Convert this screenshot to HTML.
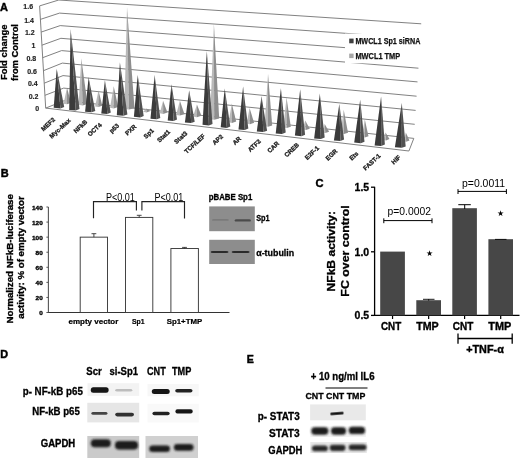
<!DOCTYPE html>
<html><head><meta charset="utf-8"><style>
html,body{margin:0;padding:0;background:#fff;}
body{width:520px;height:458px;overflow:hidden;}
svg{display:block;font-family:"Liberation Sans", Arial, sans-serif;}
</style></head><body>
<svg width="520" height="458" viewBox="0 0 520 458">
<defs>
<filter id="bl1" x="-20%" y="-50%" width="140%" height="200%"><feGaussianBlur stdDeviation="0.6"/></filter>
<filter id="bl2" x="-20%" y="-50%" width="140%" height="200%"><feGaussianBlur stdDeviation="1.0"/></filter>
</defs>
<rect width="520" height="458" fill="#fff"/>
<polyline points="39.60,5.90 58.80,0.00 421.20,23.80" fill="none" stroke="#7a7a7a" stroke-width="0.95"/>
<polyline points="40.36,19.40 59.50,13.10 420.27,38.60" fill="none" stroke="#7a7a7a" stroke-width="0.95"/>
<polyline points="41.12,32.10 60.20,25.60 419.35,53.40" fill="none" stroke="#7a7a7a" stroke-width="0.95"/>
<polyline points="41.89,45.20 60.90,38.30 418.43,68.20" fill="none" stroke="#7a7a7a" stroke-width="0.95"/>
<polyline points="42.65,57.70 61.60,50.60 417.50,81.90" fill="none" stroke="#7a7a7a" stroke-width="0.95"/>
<polyline points="43.41,70.70 62.30,63.10 416.57,96.20" fill="none" stroke="#7a7a7a" stroke-width="0.95"/>
<polyline points="44.18,83.20 63.00,75.60 415.65,110.40" fill="none" stroke="#7a7a7a" stroke-width="0.95"/>
<polyline points="44.94,95.30 63.70,88.10 414.73,124.30" fill="none" stroke="#7a7a7a" stroke-width="0.95"/>
<polyline points="45.70,108.10 64.40,100.60 413.80,138.40" fill="none" stroke="#7a7a7a" stroke-width="0.95"/>
<line x1="39.60" y1="5.90" x2="45.70" y2="108.10" stroke="#7a7a7a" stroke-width="0.95"/>
<polyline points="45.70,108.10 408.90,151.00 413.80,138.40" fill="none" stroke="#7a7a7a" stroke-width="0.95"/>
<rect x="345.00" y="33.60" width="81.00" height="29.70" fill="#fff" stroke="none" stroke-width="0" />
<rect x="349.20" y="38.60" width="4.40" height="4.70" fill="#404040" stroke="none" stroke-width="0" />
<rect x="349.20" y="53.60" width="4.40" height="4.50" fill="#a6a6a6" stroke="none" stroke-width="0" />
<text x="355.40" y="43.90" font-size="8.4" font-weight="bold" text-anchor="start" fill="#111" stroke="#111" stroke-width="0.25" textLength="65.00" lengthAdjust="spacingAndGlyphs" >MWCL1 Sp1 siRNA</text>
<text x="355.40" y="58.70" font-size="8.4" font-weight="bold" text-anchor="start" fill="#111" stroke="#111" stroke-width="0.25" textLength="44.80" lengthAdjust="spacingAndGlyphs" >MWCL1 TMP</text>
<polygon points="67.00,87.60 63.60,103.70 66.93,104.30" fill="#b9b9b9" stroke="none" stroke-width="0"/>
<polygon points="67.00,87.60 66.93,104.30 71.00,102.90" fill="#8e8e8e" stroke="none" stroke-width="0"/>
<polygon points="81.30,58.50 78.60,104.80 82.60,105.40" fill="#b9b9b9" stroke="none" stroke-width="0"/>
<polygon points="81.30,58.50 82.60,105.40 87.50,104.00" fill="#8e8e8e" stroke="none" stroke-width="0"/>
<polygon points="98.50,90.60 95.10,106.50 98.34,107.10" fill="#b9b9b9" stroke="none" stroke-width="0"/>
<polygon points="98.50,90.60 98.34,107.10 102.30,105.70" fill="#8e8e8e" stroke="none" stroke-width="0"/>
<polygon points="113.70,86.20 110.00,107.80 113.69,108.40" fill="#b9b9b9" stroke="none" stroke-width="0"/>
<polygon points="113.70,86.20 113.69,108.40 118.20,107.00" fill="#8e8e8e" stroke="none" stroke-width="0"/>
<polygon points="127.00,7.60 124.40,109.00 128.94,109.60" fill="#b9b9b9" stroke="none" stroke-width="0"/>
<polygon points="127.00,7.60 128.94,109.60 134.50,108.20" fill="#8e8e8e" stroke="none" stroke-width="0"/>
<polygon points="146.50,108.50 143.10,111.80 146.43,112.40" fill="#b9b9b9" stroke="none" stroke-width="0"/>
<polygon points="146.50,108.50 146.43,112.40 150.50,111.00" fill="#8e8e8e" stroke="none" stroke-width="0"/>
<polygon points="163.10,100.80 159.80,113.30 163.22,113.90" fill="#b9b9b9" stroke="none" stroke-width="0"/>
<polygon points="163.10,100.80 163.22,113.90 167.40,112.50" fill="#8e8e8e" stroke="none" stroke-width="0"/>
<polygon points="179.90,100.70 176.10,115.00 179.88,115.60" fill="#b9b9b9" stroke="none" stroke-width="0"/>
<polygon points="179.90,100.70 179.88,115.60 184.50,114.20" fill="#8e8e8e" stroke="none" stroke-width="0"/>
<polygon points="196.90,104.40 193.10,116.60 196.88,117.20" fill="#b9b9b9" stroke="none" stroke-width="0"/>
<polygon points="196.90,104.40 196.88,117.20 201.50,115.80" fill="#8e8e8e" stroke="none" stroke-width="0"/>
<polygon points="213.90,24.10 210.10,119.20 214.19,119.80" fill="#b9b9b9" stroke="none" stroke-width="0"/>
<polygon points="213.90,24.10 214.19,119.80 219.20,118.40" fill="#8e8e8e" stroke="none" stroke-width="0"/>
<polygon points="231.80,103.40 228.60,122.30 232.02,122.90" fill="#b9b9b9" stroke="none" stroke-width="0"/>
<polygon points="231.80,103.40 232.02,122.90 236.20,121.50" fill="#8e8e8e" stroke="none" stroke-width="0"/>
<polygon points="249.60,107.90 246.60,123.60 249.97,124.20" fill="#b9b9b9" stroke="none" stroke-width="0"/>
<polygon points="249.60,107.90 249.97,124.20 254.10,122.80" fill="#8e8e8e" stroke="none" stroke-width="0"/>
<polygon points="268.00,73.80 264.60,126.20 268.02,126.80" fill="#b9b9b9" stroke="none" stroke-width="0"/>
<polygon points="268.00,73.80 268.02,126.80 272.20,125.40" fill="#8e8e8e" stroke="none" stroke-width="0"/>
<polygon points="286.50,97.50 283.30,127.50 286.68,128.10" fill="#b9b9b9" stroke="none" stroke-width="0"/>
<polygon points="286.50,97.50 286.68,128.10 290.80,126.70" fill="#8e8e8e" stroke="none" stroke-width="0"/>
<polygon points="305.20,120.50 302.60,129.50 305.84,130.10" fill="#b9b9b9" stroke="none" stroke-width="0"/>
<polygon points="305.20,120.50 305.84,130.10 309.80,128.70" fill="#8e8e8e" stroke="none" stroke-width="0"/>
<polygon points="324.70,124.00 322.20,132.50 325.31,133.10" fill="#b9b9b9" stroke="none" stroke-width="0"/>
<polygon points="324.70,124.00 325.31,133.10 329.10,131.70" fill="#8e8e8e" stroke="none" stroke-width="0"/>
<polygon points="343.70,109.70 340.60,133.50 343.93,134.10" fill="#b9b9b9" stroke="none" stroke-width="0"/>
<polygon points="343.70,109.70 343.93,134.10 348.00,132.70" fill="#8e8e8e" stroke="none" stroke-width="0"/>
<polygon points="364.80,119.50 361.60,137.00 364.71,137.60" fill="#b9b9b9" stroke="none" stroke-width="0"/>
<polygon points="364.80,119.50 364.71,137.60 368.50,136.20" fill="#8e8e8e" stroke="none" stroke-width="0"/>
<polygon points="385.50,132.50 383.10,139.80 385.98,140.40" fill="#b9b9b9" stroke="none" stroke-width="0"/>
<polygon points="385.50,132.50 385.98,140.40 389.50,139.00" fill="#8e8e8e" stroke="none" stroke-width="0"/>
<polygon points="405.80,132.50 403.40,141.20 406.15,141.80" fill="#b9b9b9" stroke="none" stroke-width="0"/>
<polygon points="405.80,132.50 406.15,141.80 409.50,140.40" fill="#8e8e8e" stroke="none" stroke-width="0"/>
<polygon points="56.70,68.70 53.70,107.80 60.42,108.40" fill="#3b3b3b" stroke="none" stroke-width="0"/>
<polygon points="56.70,68.70 60.42,108.40 64.20,107.00" fill="#515151" stroke="none" stroke-width="0"/>
<polygon points="70.60,29.20 69.20,109.90 75.79,110.50" fill="#3b3b3b" stroke="none" stroke-width="0"/>
<polygon points="70.60,29.20 75.79,110.50 79.50,109.10" fill="#515151" stroke="none" stroke-width="0"/>
<polygon points="88.60,77.30 85.10,111.70 91.63,112.30" fill="#3b3b3b" stroke="none" stroke-width="0"/>
<polygon points="88.60,77.30 91.63,112.30 95.30,110.90" fill="#515151" stroke="none" stroke-width="0"/>
<polygon points="104.90,80.20 101.30,113.40 107.38,114.00" fill="#3b3b3b" stroke="none" stroke-width="0"/>
<polygon points="104.90,80.20 107.38,114.00 110.80,112.60" fill="#515151" stroke="none" stroke-width="0"/>
<polygon points="119.90,62.20 116.80,115.20 123.58,115.80" fill="#3b3b3b" stroke="none" stroke-width="0"/>
<polygon points="119.90,62.20 123.58,115.80 127.40,114.40" fill="#515151" stroke="none" stroke-width="0"/>
<polygon points="137.70,75.00 133.90,116.80 140.17,117.40" fill="#3b3b3b" stroke="none" stroke-width="0"/>
<polygon points="137.70,75.00 140.17,117.40 143.70,116.00" fill="#515151" stroke="none" stroke-width="0"/>
<polygon points="154.60,75.00 150.50,118.70 156.77,119.30" fill="#3b3b3b" stroke="none" stroke-width="0"/>
<polygon points="154.60,75.00 156.77,119.30 160.30,117.90" fill="#515151" stroke="none" stroke-width="0"/>
<polygon points="171.50,84.30 167.70,120.40 173.65,121.00" fill="#3b3b3b" stroke="none" stroke-width="0"/>
<polygon points="171.50,84.30 173.65,121.00 177.00,119.60" fill="#515151" stroke="none" stroke-width="0"/>
<polygon points="189.20,90.20 184.90,122.50 191.17,123.10" fill="#3b3b3b" stroke="none" stroke-width="0"/>
<polygon points="189.20,90.20 191.17,123.10 194.70,121.70" fill="#515151" stroke="none" stroke-width="0"/>
<polygon points="206.80,51.00 202.50,124.80 208.90,125.40" fill="#3b3b3b" stroke="none" stroke-width="0"/>
<polygon points="206.80,51.00 208.90,125.40 212.50,124.00" fill="#515151" stroke="none" stroke-width="0"/>
<polygon points="224.70,88.60 220.70,127.30 226.84,127.90" fill="#3b3b3b" stroke="none" stroke-width="0"/>
<polygon points="224.70,88.60 226.84,127.90 230.30,126.50" fill="#515151" stroke="none" stroke-width="0"/>
<polygon points="243.10,86.60 238.50,129.40 244.77,130.00" fill="#3b3b3b" stroke="none" stroke-width="0"/>
<polygon points="243.10,86.60 244.77,130.00 248.30,128.60" fill="#515151" stroke="none" stroke-width="0"/>
<polygon points="261.50,96.20 256.80,131.50 263.39,132.10" fill="#3b3b3b" stroke="none" stroke-width="0"/>
<polygon points="261.50,96.20 263.39,132.10 267.10,130.70" fill="#515151" stroke="none" stroke-width="0"/>
<polygon points="280.90,88.30 275.70,133.40 282.10,134.00" fill="#3b3b3b" stroke="none" stroke-width="0"/>
<polygon points="280.90,88.30 282.10,134.00 285.70,132.60" fill="#515151" stroke="none" stroke-width="0"/>
<polygon points="300.20,89.20 294.90,135.60 301.43,136.20" fill="#3b3b3b" stroke="none" stroke-width="0"/>
<polygon points="300.20,89.20 301.43,136.20 305.10,134.80" fill="#515151" stroke="none" stroke-width="0"/>
<polygon points="319.80,93.50 314.10,138.40 320.88,139.00" fill="#3b3b3b" stroke="none" stroke-width="0"/>
<polygon points="319.80,93.50 320.88,139.00 324.70,137.60" fill="#515151" stroke="none" stroke-width="0"/>
<polygon points="339.30,104.00 333.90,140.40 340.43,141.00" fill="#3b3b3b" stroke="none" stroke-width="0"/>
<polygon points="339.30,104.00 340.43,141.00 344.10,139.60" fill="#515151" stroke="none" stroke-width="0"/>
<polygon points="360.20,99.80 354.20,142.60 360.79,143.20" fill="#3b3b3b" stroke="none" stroke-width="0"/>
<polygon points="360.20,99.80 360.79,143.20 364.50,141.80" fill="#515151" stroke="none" stroke-width="0"/>
<polygon points="381.10,96.50 374.60,145.40 381.19,146.00" fill="#3b3b3b" stroke="none" stroke-width="0"/>
<polygon points="381.10,96.50 381.19,146.00 384.90,144.60" fill="#515151" stroke="none" stroke-width="0"/>
<polygon points="401.80,102.90 394.90,147.20 401.81,147.80" fill="#3b3b3b" stroke="none" stroke-width="0"/>
<polygon points="401.80,102.90 401.81,147.80 405.70,146.40" fill="#515151" stroke="none" stroke-width="0"/>
<text x="33.10" y="9.10" font-size="7.0" font-weight="bold" text-anchor="end" fill="#222" stroke="#222" stroke-width="0.15" >1.6</text>
<text x="33.86" y="22.60" font-size="7.0" font-weight="bold" text-anchor="end" fill="#222" stroke="#222" stroke-width="0.15" >1.4</text>
<text x="34.62" y="35.30" font-size="7.0" font-weight="bold" text-anchor="end" fill="#222" stroke="#222" stroke-width="0.15" >1.2</text>
<text x="35.39" y="48.40" font-size="7.0" font-weight="bold" text-anchor="end" fill="#222" stroke="#222" stroke-width="0.15" >1</text>
<text x="36.15" y="60.90" font-size="7.0" font-weight="bold" text-anchor="end" fill="#222" stroke="#222" stroke-width="0.15" >0.8</text>
<text x="36.91" y="73.90" font-size="7.0" font-weight="bold" text-anchor="end" fill="#222" stroke="#222" stroke-width="0.15" >0.6</text>
<text x="37.68" y="86.40" font-size="7.0" font-weight="bold" text-anchor="end" fill="#222" stroke="#222" stroke-width="0.15" >0.4</text>
<text x="38.44" y="98.50" font-size="7.0" font-weight="bold" text-anchor="end" fill="#222" stroke="#222" stroke-width="0.15" >0.2</text>
<text x="39.20" y="111.30" font-size="7.0" font-weight="bold" text-anchor="end" fill="#222" stroke="#222" stroke-width="0.15" >0</text>
<text x="7.10" y="80.00" font-size="9.6" font-weight="bold" text-anchor="start" fill="#000" stroke="#000" stroke-width="0.3" textLength="55.40" lengthAdjust="spacingAndGlyphs" transform="rotate(-90 7.10 80.00)" >Fold change</text>
<text x="17.60" y="80.90" font-size="9.5" font-weight="bold" text-anchor="start" fill="#000" stroke="#000" stroke-width="0.3" textLength="56.90" lengthAdjust="spacingAndGlyphs" transform="rotate(-90 17.60 80.90)" >from Control</text>
<text x="0.00" y="10.60" font-size="11" font-weight="bold" text-anchor="start" fill="#000" stroke="#000" stroke-width="0.4" >A</text>
<text x="55.48" y="120.26" font-size="6.2" font-weight="bold" text-anchor="end" fill="#1a1a1a" stroke="#1a1a1a" stroke-width="0.3" transform="rotate(-43 55.48 120.26)" >MEF2</text>
<text x="70.98" y="120.96" font-size="6.2" font-weight="bold" text-anchor="end" fill="#1a1a1a" stroke="#1a1a1a" stroke-width="0.3" transform="rotate(-43 70.98 120.96)" >Myc-Max</text>
<text x="87.78" y="122.56" font-size="6.2" font-weight="bold" text-anchor="end" fill="#1a1a1a" stroke="#1a1a1a" stroke-width="0.3" transform="rotate(-43 87.78 122.56)" >NFkB</text>
<text x="102.18" y="125.56" font-size="6.2" font-weight="bold" text-anchor="end" fill="#1a1a1a" stroke="#1a1a1a" stroke-width="0.3" transform="rotate(-43 102.18 125.56)" >OCT4</text>
<text x="119.48" y="126.26" font-size="6.2" font-weight="bold" text-anchor="end" fill="#1a1a1a" stroke="#1a1a1a" stroke-width="0.3" transform="rotate(-43 119.48 126.26)" >p53</text>
<text x="136.78" y="127.16" font-size="6.2" font-weight="bold" text-anchor="end" fill="#1a1a1a" stroke="#1a1a1a" stroke-width="0.3" transform="rotate(-43 136.78 127.16)" >PXR</text>
<text x="154.28" y="131.16" font-size="6.2" font-weight="bold" text-anchor="end" fill="#1a1a1a" stroke="#1a1a1a" stroke-width="0.3" transform="rotate(-43 154.28 131.16)" >Sp1</text>
<text x="170.48" y="132.46" font-size="6.2" font-weight="bold" text-anchor="end" fill="#1a1a1a" stroke="#1a1a1a" stroke-width="0.3" transform="rotate(-43 170.48 132.46)" >Stat1</text>
<text x="187.68" y="133.86" font-size="6.2" font-weight="bold" text-anchor="end" fill="#1a1a1a" stroke="#1a1a1a" stroke-width="0.3" transform="rotate(-43 187.68 133.86)" >Stat3</text>
<text x="205.48" y="136.56" font-size="6.2" font-weight="bold" text-anchor="end" fill="#1a1a1a" stroke="#1a1a1a" stroke-width="0.3" transform="rotate(-43 205.48 136.56)" >TCF/LEF</text>
<text x="223.48" y="137.06" font-size="6.2" font-weight="bold" text-anchor="end" fill="#1a1a1a" stroke="#1a1a1a" stroke-width="0.3" transform="rotate(-43 223.48 137.06)" >AP2</text>
<text x="241.48" y="139.26" font-size="6.2" font-weight="bold" text-anchor="end" fill="#1a1a1a" stroke="#1a1a1a" stroke-width="0.3" transform="rotate(-43 241.48 139.26)" >AR</text>
<text x="261.18" y="141.96" font-size="6.2" font-weight="bold" text-anchor="end" fill="#1a1a1a" stroke="#1a1a1a" stroke-width="0.3" transform="rotate(-43 261.18 141.96)" >ATF2</text>
<text x="279.48" y="144.06" font-size="6.2" font-weight="bold" text-anchor="end" fill="#1a1a1a" stroke="#1a1a1a" stroke-width="0.3" transform="rotate(-43 279.48 144.06)" >CAR</text>
<text x="299.48" y="145.56" font-size="6.2" font-weight="bold" text-anchor="end" fill="#1a1a1a" stroke="#1a1a1a" stroke-width="0.3" transform="rotate(-43 299.48 145.56)" >CREB</text>
<text x="319.48" y="148.66" font-size="6.2" font-weight="bold" text-anchor="end" fill="#1a1a1a" stroke="#1a1a1a" stroke-width="0.3" transform="rotate(-43 319.48 148.66)" >E2F-1</text>
<text x="337.88" y="151.76" font-size="6.2" font-weight="bold" text-anchor="end" fill="#1a1a1a" stroke="#1a1a1a" stroke-width="0.3" transform="rotate(-43 337.88 151.76)" >EGR</text>
<text x="358.78" y="154.16" font-size="6.2" font-weight="bold" text-anchor="end" fill="#1a1a1a" stroke="#1a1a1a" stroke-width="0.3" transform="rotate(-43 358.78 154.16)" >Ets</text>
<text x="380.98" y="156.36" font-size="6.2" font-weight="bold" text-anchor="end" fill="#1a1a1a" stroke="#1a1a1a" stroke-width="0.3" transform="rotate(-43 380.98 156.36)" >FAST-1</text>
<text x="400.98" y="157.86" font-size="6.2" font-weight="bold" text-anchor="end" fill="#1a1a1a" stroke="#1a1a1a" stroke-width="0.3" transform="rotate(-43 400.98 157.86)" >HIF</text>
<text x="0.80" y="176.50" font-size="11" font-weight="bold" text-anchor="start" fill="#000" stroke="#000" stroke-width="0.45" >B</text>
<line x1="48.40" y1="207.00" x2="48.40" y2="313.00" stroke="#555" stroke-width="1.1"/>
<line x1="47.40" y1="312.50" x2="229.50" y2="312.50" stroke="#333" stroke-width="1"/>
<line x1="46.40" y1="312.50" x2="48.40" y2="312.50" stroke="#555" stroke-width="1"/>
<text x="42.80" y="315.20" font-size="5.6" font-weight="bold" text-anchor="end" fill="#000" stroke="#000" stroke-width="0.3" textLength="3.60" lengthAdjust="spacingAndGlyphs" >0</text>
<line x1="46.40" y1="297.43" x2="48.40" y2="297.43" stroke="#555" stroke-width="1"/>
<text x="42.80" y="300.13" font-size="5.6" font-weight="bold" text-anchor="end" fill="#000" stroke="#000" stroke-width="0.3" textLength="7.20" lengthAdjust="spacingAndGlyphs" >20</text>
<line x1="46.40" y1="282.36" x2="48.40" y2="282.36" stroke="#555" stroke-width="1"/>
<text x="42.80" y="285.06" font-size="5.6" font-weight="bold" text-anchor="end" fill="#000" stroke="#000" stroke-width="0.3" textLength="7.20" lengthAdjust="spacingAndGlyphs" >40</text>
<line x1="46.40" y1="267.29" x2="48.40" y2="267.29" stroke="#555" stroke-width="1"/>
<text x="42.80" y="269.99" font-size="5.6" font-weight="bold" text-anchor="end" fill="#000" stroke="#000" stroke-width="0.3" textLength="7.20" lengthAdjust="spacingAndGlyphs" >60</text>
<line x1="46.40" y1="252.22" x2="48.40" y2="252.22" stroke="#555" stroke-width="1"/>
<text x="42.80" y="254.92" font-size="5.6" font-weight="bold" text-anchor="end" fill="#000" stroke="#000" stroke-width="0.3" textLength="7.20" lengthAdjust="spacingAndGlyphs" >80</text>
<line x1="46.40" y1="237.15" x2="48.40" y2="237.15" stroke="#555" stroke-width="1"/>
<text x="42.80" y="239.85" font-size="5.6" font-weight="bold" text-anchor="end" fill="#000" stroke="#000" stroke-width="0.3" textLength="10.80" lengthAdjust="spacingAndGlyphs" >100</text>
<line x1="46.40" y1="222.08" x2="48.40" y2="222.08" stroke="#555" stroke-width="1"/>
<text x="42.80" y="224.78" font-size="5.6" font-weight="bold" text-anchor="end" fill="#000" stroke="#000" stroke-width="0.3" textLength="10.80" lengthAdjust="spacingAndGlyphs" >120</text>
<line x1="46.40" y1="207.01" x2="48.40" y2="207.01" stroke="#555" stroke-width="1"/>
<text x="42.80" y="209.71" font-size="5.6" font-weight="bold" text-anchor="end" fill="#000" stroke="#000" stroke-width="0.3" textLength="10.80" lengthAdjust="spacingAndGlyphs" >140</text>
<rect x="80.20" y="237.15" width="27.30" height="75.35" fill="#fff" stroke="#3a3a3a" stroke-width="0.95" />
<rect x="125.50" y="217.41" width="27.30" height="95.09" fill="#fff" stroke="#3a3a3a" stroke-width="0.95" />
<rect x="170.90" y="248.53" width="27.50" height="63.97" fill="#fff" stroke="#3a3a3a" stroke-width="0.95" />
<line x1="93.90" y1="233.70" x2="93.90" y2="237.15" stroke="#333" stroke-width="0.9"/>
<line x1="91.50" y1="233.70" x2="96.30" y2="233.70" stroke="#333" stroke-width="0.9"/>
<line x1="139.20" y1="215.30" x2="139.20" y2="217.41" stroke="#333" stroke-width="0.9"/>
<line x1="136.80" y1="215.30" x2="141.60" y2="215.30" stroke="#333" stroke-width="0.9"/>
<line x1="184.50" y1="247.40" x2="184.50" y2="248.53" stroke="#333" stroke-width="0.9"/>
<line x1="182.10" y1="247.40" x2="186.90" y2="247.40" stroke="#333" stroke-width="0.9"/>
<polyline points="93.50,218.20 93.50,201.60 136.40,201.60 136.40,210.60" fill="none" stroke="#222" stroke-width="1.15"/>
<polyline points="141.90,210.60 141.90,201.60 184.50,201.60 184.50,218.50" fill="none" stroke="#222" stroke-width="1.15"/>
<text x="105.90" y="200.60" font-size="10.2" font-weight="normal" text-anchor="start" fill="#000" textLength="28.90" lengthAdjust="spacingAndGlyphs" >P&lt;0.01</text>
<text x="154.40" y="200.60" font-size="10.2" font-weight="normal" text-anchor="start" fill="#000" textLength="28.90" lengthAdjust="spacingAndGlyphs" >P&lt;0.01</text>
<text x="93.40" y="324.20" font-size="7.2" font-weight="bold" text-anchor="middle" fill="#000" stroke="#000" stroke-width="0.2" textLength="49.80" lengthAdjust="spacingAndGlyphs" >empty vector</text>
<text x="138.25" y="324.20" font-size="7.2" font-weight="bold" text-anchor="middle" fill="#000" stroke="#000" stroke-width="0.2" textLength="12.70" lengthAdjust="spacingAndGlyphs" >Sp1</text>
<text x="184.50" y="324.20" font-size="7.2" font-weight="bold" text-anchor="middle" fill="#000" stroke="#000" stroke-width="0.2" textLength="35.50" lengthAdjust="spacingAndGlyphs" >Sp1+TMP</text>
<text x="13.00" y="258.80" font-size="9.3" font-weight="bold" text-anchor="middle" fill="#000" stroke="#000" stroke-width="0.35" textLength="129.40" lengthAdjust="spacingAndGlyphs" transform="rotate(-90 13.00 258.80)" >Normalized NFkB-luciferase</text>
<text x="24.00" y="257.50" font-size="9.3" font-weight="bold" text-anchor="middle" fill="#000" stroke="#000" stroke-width="0.35" textLength="122.40" lengthAdjust="spacingAndGlyphs" transform="rotate(-90 24.00 257.50)" >activity: % of empty vector</text>
<text x="208.70" y="200.00" font-size="8.7" font-weight="bold" text-anchor="start" fill="#000" stroke="#000" stroke-width="0.3" textLength="43.60" lengthAdjust="spacingAndGlyphs" >pBABE Sp1</text>
<rect x="209.20" y="206.40" width="45.60" height="24.80" fill="#8d8d8d" stroke="none" stroke-width="0" />
<rect x="209.20" y="239.80" width="45.60" height="24.20" fill="#8d8d8d" stroke="none" stroke-width="0" />
<text x="256.20" y="221.00" font-size="9.8" font-weight="bold" text-anchor="start" fill="#000" stroke="#000" stroke-width="0.3" textLength="13.40" lengthAdjust="spacingAndGlyphs" >Sp1</text>
<text x="256.20" y="256.30" font-size="9.8" font-weight="bold" text-anchor="start" fill="#000" stroke="#000" stroke-width="0.3" textLength="38.00" lengthAdjust="spacingAndGlyphs" >α-tubulin</text>
<text x="315.60" y="186.90" font-size="11.2" font-weight="bold" text-anchor="start" fill="#000" stroke="#000" stroke-width="0.4" >C</text>
<line x1="374.60" y1="186.80" x2="374.60" y2="315.90" stroke="#000" stroke-width="1.3"/>
<line x1="374.00" y1="315.40" x2="519.50" y2="315.40" stroke="#000" stroke-width="1.2"/>
<line x1="392.55" y1="315.40" x2="392.55" y2="319.00" stroke="#000" stroke-width="1.2"/>
<line x1="428.65" y1="315.40" x2="428.65" y2="319.00" stroke="#000" stroke-width="1.2"/>
<line x1="464.60" y1="315.40" x2="464.60" y2="319.00" stroke="#000" stroke-width="1.2"/>
<line x1="500.70" y1="315.40" x2="500.70" y2="319.00" stroke="#000" stroke-width="1.2"/>
<line x1="371.00" y1="187.20" x2="374.60" y2="187.20" stroke="#000" stroke-width="1.3"/>
<text x="369.20" y="191.00" font-size="10.5" font-weight="bold" text-anchor="end" fill="#000" stroke="#000" stroke-width="0.3" textLength="14.60" lengthAdjust="spacingAndGlyphs" >1.5</text>
<line x1="371.00" y1="251.80" x2="374.60" y2="251.80" stroke="#000" stroke-width="1.3"/>
<text x="369.20" y="255.60" font-size="10.5" font-weight="bold" text-anchor="end" fill="#000" stroke="#000" stroke-width="0.3" textLength="14.60" lengthAdjust="spacingAndGlyphs" >1.0</text>
<line x1="371.00" y1="315.40" x2="374.60" y2="315.40" stroke="#000" stroke-width="1.3"/>
<text x="369.20" y="319.20" font-size="10.5" font-weight="bold" text-anchor="end" fill="#000" stroke="#000" stroke-width="0.3" textLength="14.60" lengthAdjust="spacingAndGlyphs" >0.5</text>
<rect x="380.20" y="251.60" width="24.70" height="63.80" fill="#474747" stroke="none" stroke-width="0" />
<rect x="416.30" y="300.20" width="24.70" height="15.20" fill="#474747" stroke="none" stroke-width="0" />
<rect x="452.30" y="208.20" width="24.60" height="107.20" fill="#474747" stroke="none" stroke-width="0" />
<rect x="488.40" y="239.20" width="24.60" height="76.20" fill="#474747" stroke="none" stroke-width="0" />
<line x1="464.70" y1="204.70" x2="464.70" y2="209.00" stroke="#000" stroke-width="1"/>
<line x1="458.30" y1="204.70" x2="470.80" y2="204.70" stroke="#000" stroke-width="1"/>
<line x1="428.70" y1="299.20" x2="428.70" y2="300.60" stroke="#000" stroke-width="1"/>
<line x1="423.00" y1="299.30" x2="434.50" y2="299.30" stroke="#000" stroke-width="0.9"/>
<line x1="495.00" y1="239.40" x2="506.50" y2="239.40" stroke="#000" stroke-width="0.9"/>
<line x1="383.80" y1="220.60" x2="432.00" y2="220.60" stroke="#000" stroke-width="1"/>
<line x1="383.80" y1="218.30" x2="383.80" y2="223.20" stroke="#000" stroke-width="1"/>
<line x1="432.00" y1="218.30" x2="432.00" y2="223.20" stroke="#000" stroke-width="1"/>
<line x1="458.00" y1="191.40" x2="506.40" y2="191.40" stroke="#000" stroke-width="1"/>
<line x1="458.00" y1="189.10" x2="458.00" y2="194.00" stroke="#000" stroke-width="1"/>
<line x1="506.40" y1="189.10" x2="506.40" y2="194.00" stroke="#000" stroke-width="1"/>
<text x="387.50" y="215.00" font-size="10.0" font-weight="normal" text-anchor="start" fill="#000" textLength="43.40" lengthAdjust="spacingAndGlyphs" >p=0.0002</text>
<text x="462.00" y="186.60" font-size="10.0" font-weight="normal" text-anchor="start" fill="#000" textLength="43.00" lengthAdjust="spacingAndGlyphs" >p=0.0011</text>
<text x="429.10" y="256.00" font-size="7.5" font-weight="normal" text-anchor="middle" fill="#000" >★</text>
<text x="500.70" y="215.60" font-size="7.5" font-weight="normal" text-anchor="middle" fill="#000" >★</text>
<text x="381.00" y="330.20" font-size="10.5" font-weight="bold" text-anchor="start" fill="#000" stroke="#000" stroke-width="0.35" textLength="20.20" lengthAdjust="spacingAndGlyphs" >CNT</text>
<text x="416.20" y="330.20" font-size="10.5" font-weight="bold" text-anchor="start" fill="#000" stroke="#000" stroke-width="0.35" textLength="22.50" lengthAdjust="spacingAndGlyphs" >TMP</text>
<text x="452.80" y="330.20" font-size="10.5" font-weight="bold" text-anchor="start" fill="#000" stroke="#000" stroke-width="0.35" textLength="20.50" lengthAdjust="spacingAndGlyphs" >CNT</text>
<text x="488.30" y="330.20" font-size="10.5" font-weight="bold" text-anchor="start" fill="#000" stroke="#000" stroke-width="0.35" textLength="23.00" lengthAdjust="spacingAndGlyphs" >TMP</text>
<line x1="458.00" y1="338.50" x2="512.20" y2="338.50" stroke="#000" stroke-width="1.3"/>
<line x1="458.00" y1="333.60" x2="458.00" y2="343.70" stroke="#000" stroke-width="1.3"/>
<line x1="512.20" y1="333.60" x2="512.20" y2="343.70" stroke="#000" stroke-width="1.3"/>
<text x="466.20" y="352.60" font-size="10" font-weight="bold" text-anchor="start" fill="#000" stroke="#000" stroke-width="0.35" textLength="37.60" lengthAdjust="spacingAndGlyphs" >+TNF-α</text>
<text x="334.70" y="251.20" font-size="10.5" font-weight="bold" text-anchor="middle" fill="#000" stroke="#000" stroke-width="0.3" textLength="80.40" lengthAdjust="spacingAndGlyphs" transform="rotate(-90 334.70 251.20)" >NFkB activity:</text>
<text x="349.40" y="251.00" font-size="10.5" font-weight="bold" text-anchor="middle" fill="#000" stroke="#000" stroke-width="0.3" textLength="91.30" lengthAdjust="spacingAndGlyphs" transform="rotate(-90 349.40 251.00)" >FC over control</text>
<text x="0.20" y="358.00" font-size="10.8" font-weight="bold" text-anchor="start" fill="#000" stroke="#000" stroke-width="0.45" >D</text>
<text x="86.25" y="374.60" font-size="10.2" font-weight="bold" text-anchor="start" fill="#000" stroke="#000" stroke-width="0.3" textLength="15.50" lengthAdjust="spacingAndGlyphs" >Scr</text>
<text x="109.50" y="374.60" font-size="10.2" font-weight="bold" text-anchor="start" fill="#000" stroke="#000" stroke-width="0.3" textLength="28.50" lengthAdjust="spacingAndGlyphs" >si-Sp1</text>
<text x="147.00" y="374.60" font-size="10.2" font-weight="bold" text-anchor="start" fill="#000" stroke="#000" stroke-width="0.3" textLength="18.75" lengthAdjust="spacingAndGlyphs" >CNT</text>
<text x="172.00" y="374.60" font-size="10.2" font-weight="bold" text-anchor="start" fill="#000" stroke="#000" stroke-width="0.3" textLength="19.25" lengthAdjust="spacingAndGlyphs" >TMP</text>
<text x="22.70" y="394.80" font-size="10.3" font-weight="bold" text-anchor="start" fill="#000" stroke="#000" stroke-width="0.3" textLength="60.20" lengthAdjust="spacingAndGlyphs" >p- NF-kB p65</text>
<text x="32.20" y="415.10" font-size="10.3" font-weight="bold" text-anchor="start" fill="#000" stroke="#000" stroke-width="0.3" textLength="47.60" lengthAdjust="spacingAndGlyphs" >NF-kB p65</text>
<text x="40.80" y="446.70" font-size="10.3" font-weight="bold" text-anchor="start" fill="#000" stroke="#000" stroke-width="0.35" textLength="34.40" lengthAdjust="spacingAndGlyphs" >GAPDH</text>
<rect x="87.50" y="383.20" width="51.70" height="12.70" fill="#f3f3f3" stroke="none" stroke-width="0" />
<rect x="147.50" y="384.00" width="51.25" height="12.25" fill="#f7f7f7" stroke="none" stroke-width="0" />
<rect x="87.30" y="402.80" width="51.90" height="19.60" fill="#e6e6e6" stroke="none" stroke-width="0" />
<rect x="147.50" y="403.75" width="51.25" height="18.75" fill="#f9f9f9" stroke="none" stroke-width="0" />
<rect x="87.30" y="436.00" width="51.90" height="22.00" fill="#cacaca" stroke="none" stroke-width="0" />
<rect x="145.50" y="436.00" width="52.50" height="22.00" fill="#d0d0d0" stroke="none" stroke-width="0" />
<text x="246.80" y="362.80" font-size="10.6" font-weight="bold" text-anchor="start" fill="#000" stroke="#000" stroke-width="0.45" >E</text>
<text x="310.70" y="380.00" font-size="10.0" font-weight="bold" text-anchor="start" fill="#000" stroke="#000" stroke-width="0.3" textLength="63.80" lengthAdjust="spacingAndGlyphs" >+ 10 ng/ml IL6</text>
<line x1="325.50" y1="388.00" x2="367.50" y2="388.00" stroke="#000" stroke-width="1.0"/>
<text x="305.40" y="398.60" font-size="9.8" font-weight="bold" text-anchor="start" fill="#000" stroke="#000" stroke-width="0.3" textLength="59.90" lengthAdjust="spacingAndGlyphs" >CNT CNT TMP</text>
<text x="257.70" y="420.10" font-size="10.2" font-weight="bold" text-anchor="start" fill="#000" stroke="#000" stroke-width="0.3" textLength="42.00" lengthAdjust="spacingAndGlyphs" >p- STAT3</text>
<text x="269.00" y="437.00" font-size="10.2" font-weight="bold" text-anchor="start" fill="#000" stroke="#000" stroke-width="0.3" textLength="30.60" lengthAdjust="spacingAndGlyphs" >STAT3</text>
<text x="268.30" y="454.00" font-size="10.2" font-weight="bold" text-anchor="start" fill="#000" stroke="#000" stroke-width="0.3" textLength="34.10" lengthAdjust="spacingAndGlyphs" >GAPDH</text>
<rect x="310.10" y="404.40" width="55.70" height="15.90" fill="#e9e9e9" stroke="none" stroke-width="0" />
<rect x="310.30" y="426.40" width="55.50" height="10.60" fill="#f2f2f2" stroke="none" stroke-width="0" />
<rect x="310.30" y="442.00" width="56.50" height="11.00" fill="#e8e8e8" stroke="none" stroke-width="0" />
<rect x="212.00" y="219.00" width="16.80" height="1.80" rx="2" fill="#7a7a7a" filter="url(#bl1)"/>
<rect x="234.60" y="219.20" width="16.40" height="2.40" rx="2" fill="#4c4c4c" filter="url(#bl1)"/>
<rect x="210.60" y="250.90" width="17.90" height="2.20" rx="2" fill="#2c2c2c" filter="url(#bl1)"/>
<rect x="231.70" y="250.90" width="17.90" height="2.20" rx="2" fill="#2c2c2c" filter="url(#bl1)"/>
<rect x="90.80" y="387.25" width="17.80" height="5.50" rx="2.5" fill="#151515" filter="url(#bl1)"/>
<rect x="115.20" y="388.90" width="17.10" height="2.60" rx="2" fill="#bdbdbd" filter="url(#bl1)"/>
<rect x="151.80" y="389.00" width="17.90" height="5.00" rx="2.5" fill="#151515" filter="url(#bl1)"/>
<rect x="175.20" y="389.00" width="17.30" height="3.40" rx="2" fill="#222" filter="url(#bl1)"/>
<rect x="91.30" y="412.00" width="16.20" height="2.80" rx="2" fill="#444" filter="url(#bl1)"/>
<rect x="115.20" y="412.80" width="18.80" height="3.60" rx="2" fill="#333" filter="url(#bl1)"/>
<rect x="152.40" y="411.70" width="17.30" height="3.60" rx="2" fill="#222" filter="url(#bl1)"/>
<rect x="175.40" y="409.20" width="17.30" height="4.40" rx="2" fill="#181818" filter="url(#bl1)"/>
<rect x="90.80" y="439.30" width="20.00" height="8.00" rx="4" fill="#1a1a1a" filter="url(#bl2)"/>
<rect x="115.00" y="441.05" width="23.00" height="8.50" rx="4" fill="#1a1a1a" filter="url(#bl2)"/>
<rect x="149.20" y="445.50" width="20.80" height="6.60" rx="3.3" fill="#1c1c1c" filter="url(#bl2)"/>
<rect x="173.90" y="444.10" width="19.60" height="6.60" rx="3.3" fill="#1c1c1c" filter="url(#bl2)"/>
<rect x="330.3" y="412.2" width="13.3" height="2.5" rx="1.2" fill="#111" filter="url(#bl1)" transform="rotate(-4.5 337 413.4)"/>
<rect x="311.30" y="427.30" width="17.10" height="7.40" rx="3.7" fill="#1a1a1a" filter="url(#bl2)"/>
<rect x="331.00" y="427.30" width="15.10" height="7.40" rx="3.7" fill="#1a1a1a" filter="url(#bl2)"/>
<rect x="348.70" y="426.70" width="16.40" height="7.40" rx="3.7" fill="#1a1a1a" filter="url(#bl2)"/>
<rect x="312.00" y="445.60" width="15.80" height="5.60" rx="2.8" fill="#262626" filter="url(#bl2)"/>
<rect x="329.70" y="444.70" width="15.80" height="6.20" rx="2.8" fill="#262626" filter="url(#bl2)"/>
<rect x="348.70" y="444.50" width="17.80" height="5.80" rx="2.8" fill="#262626" filter="url(#bl2)"/>
</svg>
</body></html>
